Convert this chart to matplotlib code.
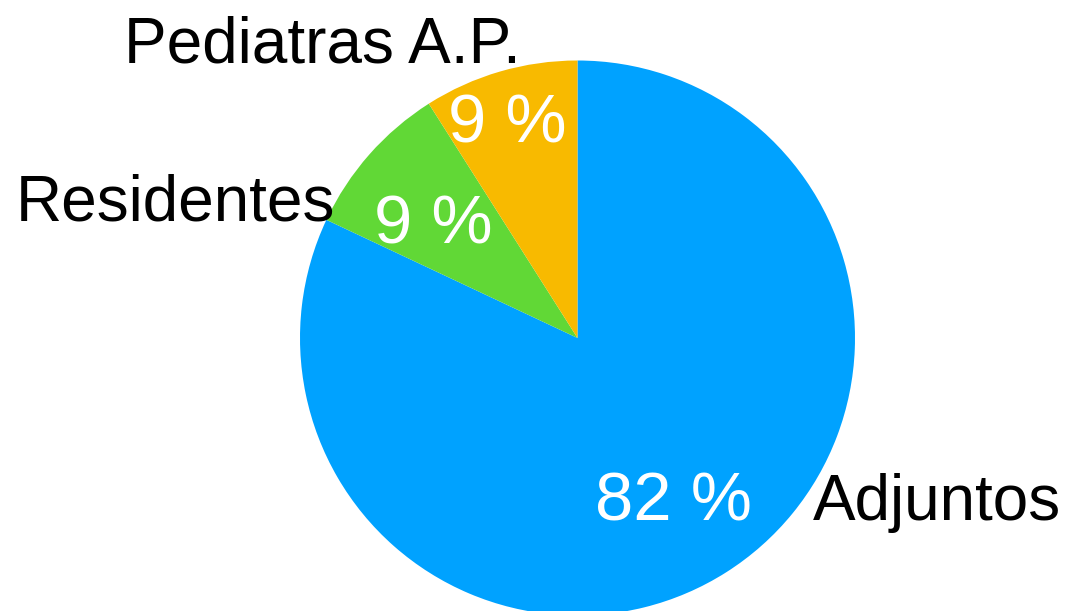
import matplotlib
matplotlib.use("Agg")
import matplotlib.pyplot as plt

# slice data
categories = ["Adjuntos", "Residentes", "Pediatras A.P."]
shares = [82, 9, 9]
colors = ["#00A2FF", "#61D836", "#F8BA00"]

W, H = 1071, 611
fig = plt.figure(figsize=(W / 100, H / 100), dpi=100)
ax = fig.add_axes([0, 0, 1, 1])

# pie centre (pixels from the top-left) and radius in pixels
cx, cy, rpx = 577.5, 338, 277.5

wedges, _ = ax.pie(shares, colors=colors, startangle=90, counterclock=False,
                   radius=1, center=(0, 0), frame=True,
                   wedgeprops=dict(linewidth=0))
ax.set_xlim(-cx / rpx, (W - cx) / rpx)
ax.set_ylim(-(H - cy) / rpx, cy / rpx)
ax.axis("off")

font = ["Liberation Sans", "DejaVu Sans"]

# percentage labels inside the slices (x, baseline y in pie radii)
pct_pos = [(0.347, -0.656), (-0.519, 0.342), (-0.252, 0.706)]
for s, (x, y) in zip(shares, pct_pos):
    ax.text(x, y, f"{s} %", color="white", fontsize=49.5, ha="center",
            va="baseline", family=font)

# outside labels
label_pos = [(1.297, -0.656), (-1.449, 0.425), (-0.919, 0.991)]
for name, (x, y) in zip(categories, label_pos):
    ax.text(x, y, name, color="black", fontsize=46, ha="center",
            va="baseline", family=font)

fig.savefig("out.png", dpi=100)
